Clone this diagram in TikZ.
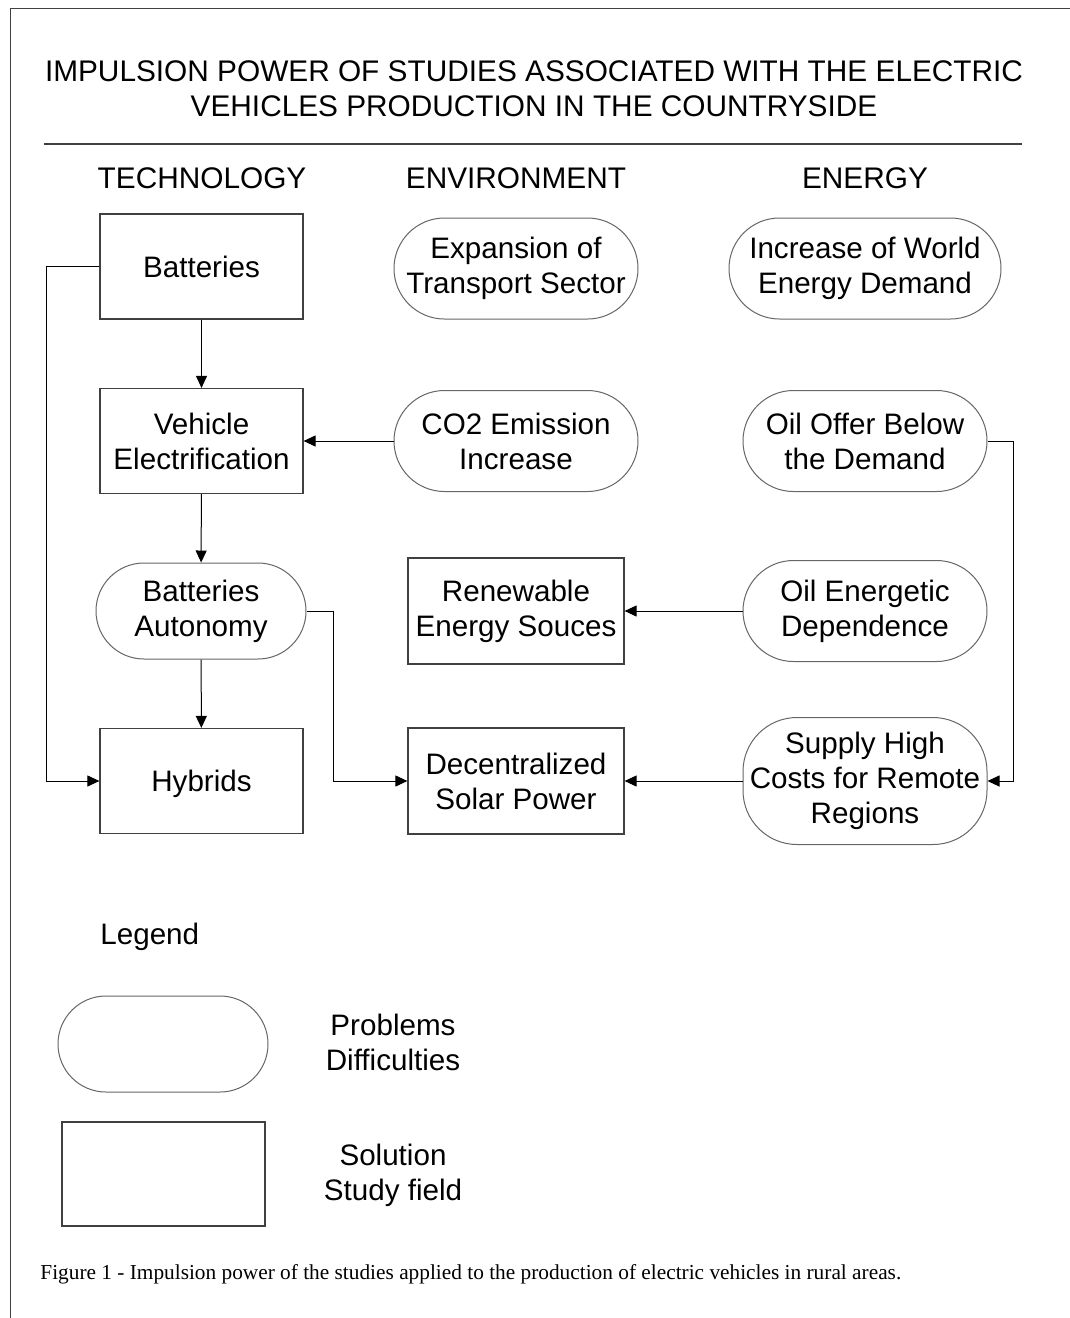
\documentclass[tikz,border=0pt]{standalone}
\usepackage{fontspec}
\setmainfont{Liberation Sans}
\newfontfamily\capfont{Liberation Serif}
\usetikzlibrary{arrows.meta,shapes.misc}

\begin{document}
\begin{tikzpicture}[x=0.5pt,y=-0.5pt,
  every node/.style={font=\fontsize{14.8}{17.5}\selectfont, align=center, inner sep=0pt},
  solbox/.style={draw=black!75, line width=0.6pt, rectangle, minimum width=101.5pt, minimum height=52.5pt},
  probnode/.style={draw=black!60, line width=0.5pt, rounded rectangle, minimum width=122pt, minimum height=50.5pt},
  tallprob/.style={draw=black!60, line width=0.5pt, rectangle, rounded corners=27pt, minimum width=122pt, minimum height=63.5pt},
  conn/.style={draw=black, line width=0.5pt, -{Triangle[length=6pt,width=5.5pt]}}]
\useasboundingbox (0,0) rectangle (1070,1318);
\draw[black!75, line width=0.7pt] (1070,8.5) -- (10.5,8.5) -- (10.5,1318);
% title and columns
\node[font=\fontsize{14.9}{17.5}\selectfont] (title) at (534,88.5) {IMPULSION POWER OF STUDIES ASSOCIATED WITH THE ELECTRIC\\VEHICLES PRODUCTION IN THE COUNTRYSIDE};
\draw[black!75, line width=0.6pt] (44,144) -- (1022,144);
\node[font=\fontsize{14.9}{17.5}\selectfont] (tech) at (202,178) {TECHNOLOGY};
\node[font=\fontsize{14.9}{17.5}\selectfont] (env) at (516,178) {ENVIRONMENT};
\node[font=\fontsize{14.9}{17.5}\selectfont] (ener) at (865,178) {ENERGY};
% technology
\node[solbox] (bat) at (201.5,266.5) {Batteries};
\node[solbox] (velec) at (201.5,441) {Vehicle\\Electrification};
\node[probnode, minimum width=105pt, minimum height=48pt] (batauto) at (201,611) {Batteries\\Autonomy};
\node[solbox] (hyb) at (201.5,781) {\raisebox{0pt}[\height][0pt]{Hybrids}};
% environment
\node[probnode] (transp) at (516,268.5) {Expansion of\\Transport Sector};
\node[probnode] (co2) at (516,441) {CO2 Emission\\Increase};
\node[solbox, minimum width=108pt, minimum height=53pt] (renew) at (516,611) {Renewable\\Energy Souces};
\node[solbox, minimum width=108pt, minimum height=53pt] (dsolar) at (516,781) {Decentralized\\Solar Power};
% energy
\node[probnode, minimum width=136pt] (wdemand) at (865,268.5) {Increase of World\\Energy Demand};
\node[probnode] (oiloffer) at (865,441) {Oil Offer Below\\the Demand};
\node[probnode] (oildep) at (865,611) {Oil Energetic\\Dependence};
\node[tallprob] (supply) at (865,781) {Supply High\\Costs for Remote\\Regions};
% connectors
\draw[conn] (bat) -- (velec);
\draw[conn] (velec) -- (batauto);
\draw[conn] (batauto) -- (hyb);
\draw[conn] (bat.west) -- ++(-53,0) |- (hyb.west);
\draw[conn] (co2.west) -- (velec.east);
\draw[conn] (batauto.east) -- ++(27,0) |- (dsolar.west);
\draw[conn] (oildep.west) -- (renew.east);
\draw[conn] (supply.west) -- (dsolar.east);
\draw[conn] (oiloffer.east) -- ++(26,0) |- (supply.east);
% legend
\node[anchor=west] (legend) at (100,937) {Legend};
\node[probnode, minimum width=105pt, minimum height=48pt] (legprob) at (163,1044) {};
\node (legprobtxt) at (393,1042.5) {Problems\\Difficulties};
\node[solbox, minimum height=52pt] (legsol) at (163.5,1174) {};
\node (legsoltxt) at (393,1175.5) {Solution\\Study field};
% caption
\node[anchor=west, font=\capfont\fontsize{10.66}{12}\selectfont] (caption) at (40,1274) {Figure 1 - Impulsion power of the studies applied to the production of electric vehicles in rural areas.};
\end{tikzpicture}
\end{document}
